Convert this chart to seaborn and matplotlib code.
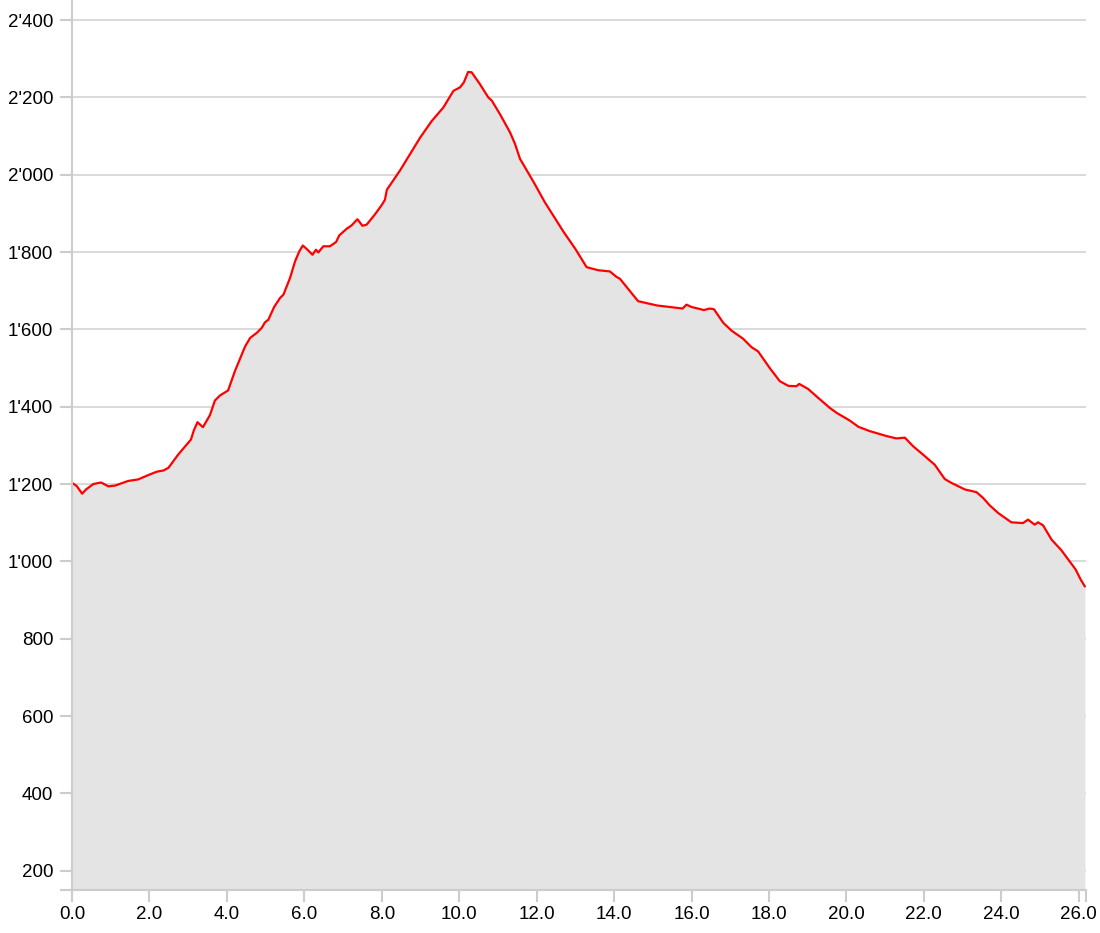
import matplotlib
matplotlib.use("Agg")
import matplotlib.pyplot as plt
import matplotlib.ticker as mticker
import seaborn as sns
import pandas as pd

# distance (km) and elevation (m)
distance_km = [0.00, 0.12, 0.26, 0.36, 0.55, 0.75, 0.94, 1.11, 1.45, 1.71, 1.94, 2.19,
               2.36, 2.49, 2.74, 3.07, 3.15, 3.24, 3.38, 3.56, 3.69, 3.82, 4.03, 4.21,
               4.47, 4.60, 4.77, 4.90, 4.98, 5.07, 5.22, 5.37, 5.46, 5.63, 5.76, 5.87,
               5.96, 6.06, 6.21, 6.30, 6.36, 6.49, 6.66, 6.82, 6.90, 7.09, 7.22, 7.37,
               7.50, 7.61, 7.82, 8.00, 8.08, 8.13, 8.47, 8.99, 9.29, 9.59, 9.85, 10.02,
               10.12, 10.23, 10.32, 10.53, 10.75, 10.84, 11.05, 11.31, 11.44, 11.57,
               11.70, 11.95, 12.21, 12.69, 13.00, 13.29, 13.59, 13.89, 14.06, 14.15,
               14.62, 15.10, 15.77, 15.87, 16.00, 16.32, 16.47, 16.58, 16.82, 17.03,
               17.33, 17.55, 17.72, 18.02, 18.28, 18.50, 18.71, 18.78, 19.01, 19.27,
               19.57, 19.75, 20.09, 20.31, 20.60, 21.04, 21.29, 21.51, 21.72, 21.98,
               22.28, 22.54, 22.71, 23.06, 23.36, 23.53, 23.70, 23.92, 24.26, 24.56,
               24.69, 24.86, 24.95, 25.08, 25.30, 25.55, 25.81, 25.92, 26.05, 26.16]
elevation_m = [1203, 1195, 1175, 1186, 1200, 1204, 1194, 1196, 1208, 1212, 1222, 1232,
               1235, 1242, 1276, 1315, 1340, 1360, 1347, 1378, 1416, 1429, 1442, 1493,
               1556, 1578, 1591, 1604, 1618, 1625, 1658, 1681, 1690, 1733, 1776, 1802,
               1817, 1808, 1793, 1806, 1799, 1815, 1815, 1826, 1843, 1860, 1869, 1885,
               1868, 1871, 1897, 1922, 1935, 1961, 2011, 2096, 2139, 2174, 2217, 2226,
               2239, 2266, 2265, 2235, 2200, 2192, 2157, 2110, 2080, 2041,
               2019, 1976, 1929, 1853, 1808, 1761, 1753, 1750, 1736, 1731,
               1673, 1662, 1654, 1664, 1658, 1650, 1654, 1652, 1617, 1597,
               1576, 1554, 1543, 1500, 1466, 1454, 1453, 1459, 1446, 1423,
               1397, 1384, 1364, 1348, 1337, 1324, 1318, 1320, 1298, 1276,
               1250, 1213, 1203, 1186, 1179, 1164, 1145, 1125, 1101, 1099,
               1108, 1095, 1101, 1093, 1056, 1029, 994, 979, 953, 935]
x_ticks = [0, 2, 4, 6, 8, 10, 12, 14, 16, 18, 20, 22, 24, 26]
y_ticks = [200, 400, 600, 800, 1000, 1200, 1400, 1600, 1800, 2000, 2200, 2400]

df = pd.DataFrame({"km": distance_km, "ele": elevation_m})

sns.set_style("white")
plt.rcParams["font.family"] = ["Liberation Sans", "DejaVu Sans"]

fig = plt.figure(figsize=(11, 9.33), dpi=100)
ax = fig.add_axes([0.0655, 0.0461, 0.987 - 0.0655, 1 - 0.0461])

x_max = 26.18
y_min, y_max = 150, 2452

ax.fill_between(df["km"], y_min, df["ele"], color="#e4e4e4", lw=0, zorder=2)
sns.lineplot(data=df, x="km", y="ele", color="#ff0000", lw=1.6, ax=ax, zorder=3)

ax.set_xlim(0, x_max)
ax.set_ylim(y_min, y_max)
ax.set_xticks(x_ticks)
ax.set_yticks(y_ticks)
ax.set_xticks([x_max], minor=True)
ax.set_yticks([y_min], minor=True)
ax.xaxis.set_major_formatter(mticker.FuncFormatter(lambda v, p: f"{v:.1f}"))
ax.yaxis.set_major_formatter(mticker.FuncFormatter(lambda v, p: f"{int(v):,}".replace(",", "'")))
ax.set_xlabel("")
ax.set_ylabel("")

ax.grid(axis="y", color="#d9d9d9", lw=1.4, zorder=0)
ax.grid(axis="x", visible=False)
ax.set_axisbelow(True)

for s in ["top", "right"]:
    ax.spines[s].set_visible(False)
for s in ["left", "bottom"]:
    ax.spines[s].set_color("#cccccc")
    ax.spines[s].set_linewidth(1.5)
    ax.spines[s].set_zorder(4)

ax.tick_params(axis="both", which="both", direction="out", length=8.5, width=1.5,
               color="#cccccc", labelcolor="black", labelsize=13.5)
ax.tick_params(axis="x", which="both", bottom=True, pad=3)
ax.tick_params(axis="y", which="both", left=True, pad=5)

fig.savefig("out.png", dpi=100)
